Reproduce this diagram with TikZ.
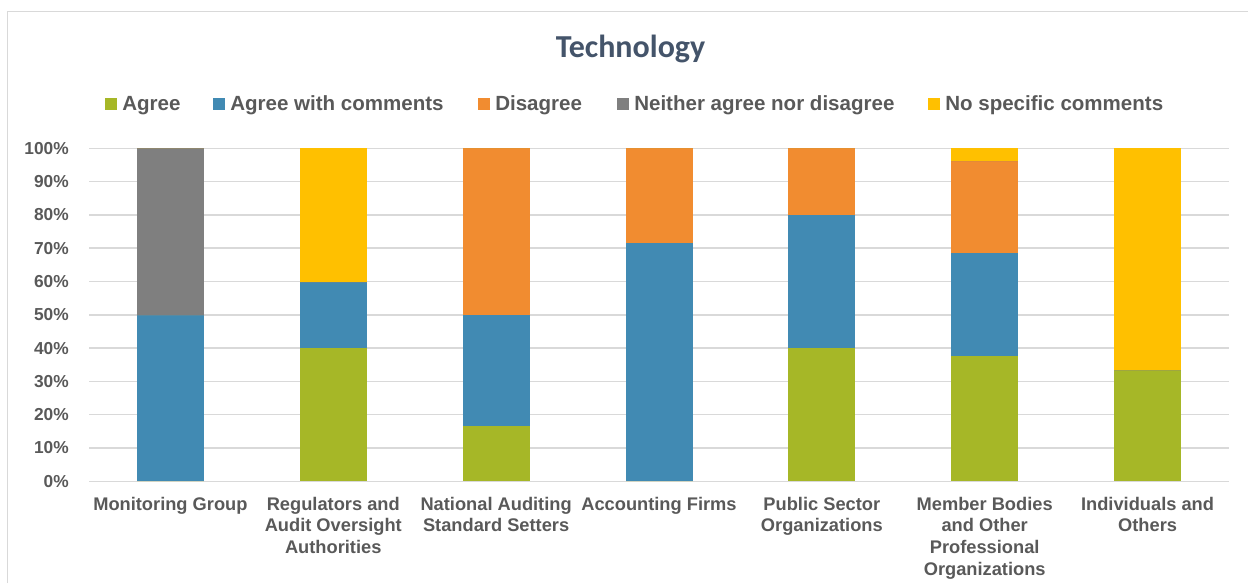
\documentclass[tikz,border=0pt]{standalone}
\usepackage{fontspec}
\setmainfont{Liberation Sans}
\newfontfamily\titlefont{Carlito}
\usepackage{xcolor}
\definecolor{agreecol}{HTML}{A6B727}
\definecolor{commentcol}{HTML}{418AB3}
\definecolor{disagreecol}{HTML}{F18C30}
\definecolor{neithercol}{HTML}{7F7F7F}
\definecolor{nocommentcol}{HTML}{FFC000}
\definecolor{labelgray}{HTML}{595959}
\definecolor{titleblue}{HTML}{44546A}
\definecolor{gridgray}{HTML}{D9D9D9}
\tikzset{
	gridline/.style={draw=gridgray, line width=1.1pt},
	ylabel/.style={anchor=east, inner sep=0pt, text=labelgray,
			font=\fontsize{13}{15}\selectfont\bfseries},
	catlabel/.style={anchor=north, inner sep=0pt, align=center, text=labelgray,
			font=\fontsize{13.7}{16.3}\selectfont\bfseries},
	keybox/.style={minimum size=9pt, inner sep=0pt, anchor=north west, fill=#1},
	keytext/.style={anchor=base west, inner sep=0pt, text=labelgray,
			font=\fontsize{15.4}{18}\selectfont\bfseries}
}

\begin{document}
\begin{tikzpicture}[x=0.75pt, y=-0.75pt]

			\useasboundingbox (0,0) rectangle (1248,583);

			% Frame of the chart area
			\draw[gridgray, line width=1.1pt] (7.5,583) -- (7.5,11.5) -- (1248,11.5);

			% Title
			\node[anchor=base, text=titleblue, font=\titlefont\fontsize{24}{28}\selectfont\bfseries] (title) at (630.5,57.5) {Technology};

			% Legend
			\foreach \c/\xs/\txt [count=\k] in {agreecol/105/Agree, commentcol/213/Agree with comments, disagreecol/478/Disagree, neithercol/617/Neither agree nor disagree, nocommentcol/928/No specific comments} {
					\node[keybox=\c] (key\k) at (\xs,98) {};
					\node[keytext] (keytext\k) at ({\xs+17},110.7) {\txt};
				}

			\begin{scope}[shift={(0,481.3)}, y=2.4975pt]
				% Gridlines and percent labels
				\foreach \p in {0,10,...,100} {
						\draw[gridline] (89,\p) -- (1229,\p);
						\node[ylabel] (ylab\p) at (69,\p) {\p\%};
					}

				% Stacked bars: agree / with comments / disagree / neither / no comments
				\foreach \a/\b/\c/\d/\e [count=\i from 0] in {0/50/0/50/0, 40/20/0/0/40, 16.67/33.33/50/0/0, 0/71.43/28.57/0/0, 40/40/20/0/0, 37.7/31/27.6/0/3.7, 33.33/0/0/0/66.67} {
						\pgfmathsetmacro\xl{89+162.86*\i+81.43-33.5}
						\pgfmathsetmacro\xr{\xl+67}
						\pgfmathsetmacro\ya{\a}
						\pgfmathsetmacro\yb{\ya+\b}
						\pgfmathsetmacro\yc{\yb+\c}
						\pgfmathsetmacro\yd{\yc+\d}
						\pgfmathsetmacro\ye{\yd+\e}
						\fill[agreecol] (\xl,0) rectangle (\xr,\ya);
						\fill[commentcol] (\xl,\ya) rectangle (\xr,\yb);
						\fill[disagreecol] (\xl,\yb) rectangle (\xr,\yc);
						\fill[neithercol] (\xl,\yc) rectangle (\xr,\yd);
						\fill[nocommentcol] (\xl,\yd) rectangle (\xr,\ye);
					}
			\end{scope}

			% Category labels
			\foreach \lab [count=\i from 0] in {{Monitoring Group}, {Regulators and\\Audit Oversight\\Authorities}, {National Auditing\\Standard Setters}, {Accounting Firms}, {Public Sector\\Organizations}, {Member Bodies\\and Other\\Professional\\Organizations}, {Individuals and\\Others}} {
					\node[catlabel] (cat\i) at ({170.4+162.86*\i},496.5) {\lab};
				}

		\end{tikzpicture}
\end{document}
